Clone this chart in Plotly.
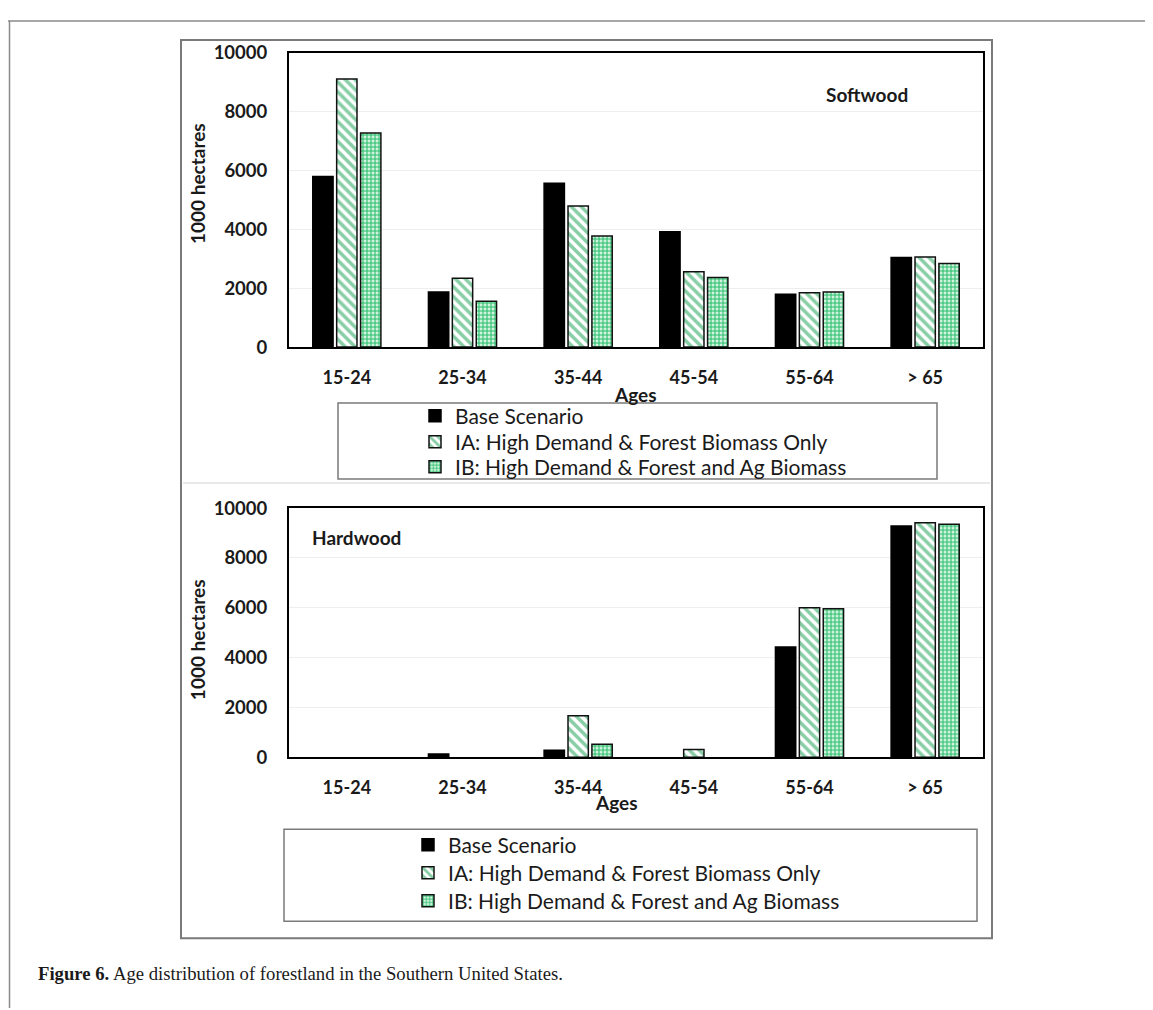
import plotly.graph_objects as go

# Reference picture is 1153x1010.  The returned screenshot places the figure
# 8px right (page margin) and maps figure y to picture y as ~20 + 0.978*y,
# so reference pixel positions are converted through that mapping.
REF_W, REF_H = 1153, 1010
OFF_X = 8
W, H = REF_W - 2 * OFF_X, 1010
Y0, YS = 20.0, 0.978

ages = ["15-24", "25-34", "35-44", "45-54", "55-64", "> 65"]
series_names = [
    "Base Scenario",
    "IA: High Demand & Forest Biomass Only",
    "IB: High Demand & Forest and Ag Biomass",
]

soft_base = [5800, 1870, 5570, 3920, 1800, 3050]
soft_ia = [9120, 2340, 4800, 2560, 1850, 3060]
soft_ib = [7280, 1560, 3780, 2370, 1870, 2840]

hard_base = [None, 130, 280, None, 4420, 9280]
hard_ia = [None, None, 1660, 310, 6000, 9410]
hard_ib = [None, None, 520, None, 5960, 9350]

y_tick_vals = [0, 2000, 4000, 6000, 8000, 10000]
y_tick_text = ["0", "2000", "4000", "6000", "8000", "10000"]


def px_x(x):
    return (x - OFF_X) / W


def px_y(y):
    fy = (y - Y0) / YS
    fy = min(max(fy, 1.0), H)
    return 1 - fy / H


FONT = "Lato"
INK = "#1a1a1a"
TICK_X = dict(family=FONT, size=18, color=INK, weight="bold")
TICK_Y = dict(family=FONT, size=18.5, color=INK, weight="bold")
BOLD = dict(family=FONT, size=19, color=INK, weight="bold")
LEG_FONT = dict(family=FONT, size=21, color=INK)

styles = [
    dict(color="black", line=dict(color="black", width=1.5)),
    dict(color="white", line=dict(color="#111111", width=1.5),
         pattern=dict(shape="\\", fgcolor="#0f9d4d", bgcolor="white",
                      size=7, solidity=0.5, fillmode="overlay")),
    dict(color="#d3f2df", line=dict(color="#111111", width=1.5),
         pattern=dict(shape="+", fgcolor="#26bf69", bgcolor="#d3f2df",
                      size=4, solidity=0.45, fillmode="replace")),
]

# one legend per entry so each row can sit exactly where the reference has it
top_rows = [416, 442, 467]
bot_rows = [845, 873, 901]
top_legend_x = 415
bot_legend_x = 408

fig = go.Figure()

for i, (name, vals) in enumerate(zip(series_names, [soft_base, soft_ia, soft_ib])):
    fig.add_trace(go.Bar(x=ages, y=vals, name=name, marker=styles[i],
                         xaxis="x", yaxis="y", legend=f"legend{i + 1 if i else ''}",
                         showlegend=True))
for i, (name, vals) in enumerate(zip(series_names, [hard_base, hard_ia, hard_ib])):
    fig.add_trace(go.Bar(x=ages, y=vals, name=name, marker=styles[i],
                         xaxis="x2", yaxis="y2", legend=f"legend{i + 4}",
                         showlegend=True))

xdom = [px_x(289), px_x(983)]
axis_common = dict(showline=True, linecolor="black", linewidth=2, mirror=True,
                   ticks="outside", ticklen=0, zeroline=False)

legends = {}
for i, row in enumerate(top_rows):
    key = "legend" if i == 0 else f"legend{i + 1}"
    legends[key] = dict(x=px_x(top_legend_x), y=px_y(row), xanchor="left", yanchor="middle",
                        bgcolor="rgba(0,0,0,0)", borderwidth=0, font=LEG_FONT, itemwidth=30)
for i, row in enumerate(bot_rows):
    legends[f"legend{i + 4}"] = dict(x=px_x(bot_legend_x), y=px_y(row), xanchor="left",
                                     yanchor="middle", bgcolor="rgba(0,0,0,0)", borderwidth=0,
                                     font=LEG_FONT, itemwidth=30)

fig.update_layout(
    width=W, height=H,
    margin=dict(l=0, r=0, t=0, b=0),
    paper_bgcolor="white", plot_bgcolor="white",
    barmode="group", bargap=0.38, bargroupgap=0.15,
    font=dict(family=FONT, color=INK),
    xaxis=dict(domain=xdom, anchor="y", showgrid=False, ticklabelstandoff=13,
               tickfont=TICK_X, **axis_common),
    yaxis=dict(domain=[px_y(347), px_y(53)], anchor="x", range=[0, 10000],
               tickvals=y_tick_vals, ticktext=y_tick_text, showgrid=True,
               gridcolor="#eeeeee", gridwidth=1, ticklabelstandoff=16,
               tickfont=TICK_Y, **axis_common),
    xaxis2=dict(domain=xdom, anchor="y2", showgrid=False, ticklabelstandoff=13,
                tickfont=TICK_X, **axis_common),
    yaxis2=dict(domain=[px_y(757), px_y(508)], anchor="x2", range=[0, 10000],
                tickvals=y_tick_vals, ticktext=y_tick_text, showgrid=True,
                gridcolor="#eeeeee", gridwidth=1, ticklabelstandoff=16,
                tickfont=TICK_Y, **axis_common),
    showlegend=True,
    **legends,
)

shapes = []
gray = "#7a7a7a"
# page rules
shapes.append(dict(type="line", xref="paper", yref="paper", x0=0, x1=1,
                   y0=px_y(12), y1=px_y(12), line=dict(color="#8a8a8a", width=1.5)))
shapes.append(dict(type="line", xref="paper", yref="paper", x0=px_x(9.5), x1=px_x(9.5),
                   y0=px_y(12), y1=0, line=dict(color="#8a8a8a", width=1.5)))
# outer figure box
shapes.append(dict(type="rect", xref="paper", yref="paper", x0=px_x(181), x1=px_x(992),
                   y0=px_y(938), y1=px_y(40), line=dict(color=gray, width=2)))
# separator between panels
shapes.append(dict(type="line", xref="paper", yref="paper", x0=px_x(183), x1=px_x(990),
                   y0=px_y(483), y1=px_y(483), line=dict(color="#e2e2e2", width=1.5)))
# legend boxes
shapes.append(dict(type="rect", xref="paper", yref="paper", x0=px_x(338), x1=px_x(937),
                   y0=px_y(479), y1=px_y(403), line=dict(color=gray, width=1.5)))
shapes.append(dict(type="rect", xref="paper", yref="paper", x0=px_x(284), x1=px_x(977),
                   y0=px_y(921), y1=px_y(829), line=dict(color=gray, width=1.5)))
fig.update_layout(shapes=shapes)

ann = []
ann.append(dict(text="1000 hectares", x=px_x(197), y=px_y(184), xref="paper", yref="paper",
                textangle=-90, showarrow=False, font=BOLD, xanchor="center", yanchor="middle"))
ann.append(dict(text="1000 hectares", x=px_x(197), y=px_y(640), xref="paper", yref="paper",
                textangle=-90, showarrow=False, font=BOLD, xanchor="center", yanchor="middle"))
ann.append(dict(text="Ages", x=px_x(635), y=px_y(394), xref="paper", yref="paper",
                showarrow=False, font=BOLD, xanchor="center", yanchor="middle"))
ann.append(dict(text="Ages", x=px_x(616), y=px_y(802), xref="paper", yref="paper",
                showarrow=False, font=BOLD, xanchor="center", yanchor="middle"))
ann.append(dict(text="Softwood", x=px_x(867), y=px_y(94), xref="paper", yref="paper",
                showarrow=False, font=BOLD, xanchor="center", yanchor="middle"))
ann.append(dict(text="Hardwood", x=px_x(356), y=px_y(537), xref="paper", yref="paper",
                showarrow=False, font=BOLD, xanchor="center", yanchor="middle"))
ann.append(dict(text="<b>Figure 6.</b> Age distribution of forestland in the Southern United States.",
                x=px_x(36), y=px_y(973), xref="paper", yref="paper", showarrow=False,
                font=dict(family="Liberation Serif", size=18.7, color=INK),
                xanchor="left", yanchor="middle"))
fig.update_layout(annotations=ann)

fig.write_html("out.html")
